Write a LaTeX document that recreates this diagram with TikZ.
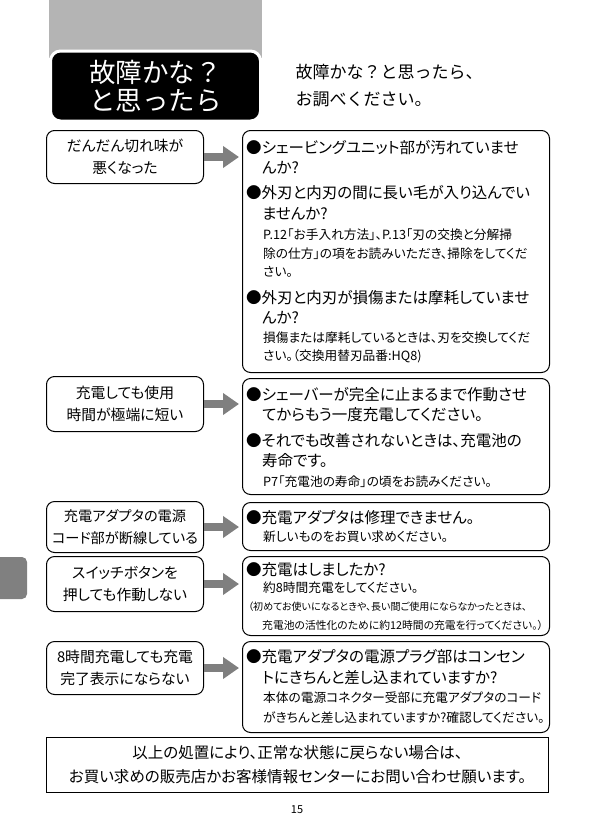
\documentclass[tikz,border=0pt]{standalone}
\usepackage{fontspec}
\setmainfont{Noto Sans CJK JP}[RawFeature=+palt]
\newfontfamily\fullfont{Noto Sans CJK JP}
\usetikzlibrary{arrows.meta,positioning}
\definecolor{hdrgray}{HTML}{B4B4B4}
\definecolor{arrgray}{HTML}{7F7F7F}
\definecolor{tabgray}{HTML}{808080}
\newcommand{\qfont}{\fontsize{14.8pt}{22pt}\selectfont}
\newcommand{\afont}{\fontsize{15.5pt}{20pt}\selectfont}
\newcommand{\sfont}{\fontsize{12.7pt}{18pt}\selectfont}
\tikzset{
  % question boxes on the left, answer boxes on the right
  qbox/.style = {rectangle, rounded corners=8pt, draw, line width=1pt, anchor=north west,
                 minimum width=157pt, inner sep=0pt, align=center, font=\qfont},
  abox/.style = {rectangle, rounded corners=8pt, draw, line width=1pt, anchor=north west,
                 minimum width=307pt, inner sep=0pt},
  go/.style   = {-{Triangle[length=16pt,width=21pt]}, line width=8pt, arrgray, shorten >=3pt},
  ln/.style   = {anchor=west, inner sep=0pt, font=\afont},
  sm/.style   = {anchor=west, inner sep=0pt, font=\sfont},
  tiny/.style = {anchor=west, inner sep=0pt, font=\fontsize{10pt}{12pt}\selectfont},
  tinier/.style = {anchor=west, inner sep=0pt, font=\fontsize{10.8pt}{12pt}\selectfont},
}
\begin{document}
\begin{tikzpicture}[x=1pt,y=-1pt]
\useasboundingbox (0,0) rectangle (595,839);
% --- title -------------------------------------------------------------
\fill[hdrgray] (49,0) rectangle (262,58);
\node[rectangle, rounded corners=10pt, fill=black, draw=white, line width=3pt,
      minimum width=210pt, minimum height=70pt, text=white, align=center,
      font=\fullfont\fontsize{26.5pt}{28pt}\selectfont] (ttl) at (155.5,86) {故障かな？\\と思ったら};
\node[anchor=west, align=left, font=\fullfont\fontsize{17pt}{27pt}\selectfont] (lead) at (292,86)
  {故障かな？と思ったら、\\お調べください。};
% --- side tab ----------------------------------------------------------
\fill[tabgray] (0,599) -- (0,557) [rounded corners=5pt] -- (27,557) -- (27,599) [sharp corners] -- cycle;

% --- questions ---------------------------------------------------------
\node[qbox, minimum height=53pt] (q1) at (46,130) {だんだん切れ味が\\悪くなった};
\node[qbox, minimum height=55pt] (q2) at (46,376) {充電しても使用\\時間が極端に短い};
\node[qbox, minimum height=51pt, font=\fontsize{14.2pt}{21.5pt}\selectfont] (q3) at (46,501) {充電アダプタの電源\\コード部が断線している};
\node[qbox, minimum height=55pt] (q4) at (46,556) {スイッチボタンを\\押しても作動しない};
\node[qbox, minimum height=53pt] (q5) at (46,641) {8時間充電しても充電\\完了表示にならない};

% --- answers -----------------------------------------------------------
\node[abox, minimum height=242pt] (a1) at (242,130) {};
\node[abox, minimum height=116pt] (a2) at (242,378) {};
\node[abox, minimum height=48pt]  (a3) at (242,502) {};
\node[abox, minimum height=79pt]  (a4) at (242,556) {};
\node[abox, minimum height=91pt]  (a5) at (242,641) {};

\foreach \i in {1,...,5} {\draw[go] (q\i.east) -- (q\i.east -| a\i.west);}

\foreach \x/\y/\s/\t [count=\n] in {
  246/148/ln/{●シェービングユニット部が汚れていませ},
  262/168/ln/{んか?},
  246/193/ln/{●外刃と内刃の間に長い毛が入り込んでい},
  262/214/ln/{ませんか?},
  263/235/sm/{P.12「お手入れ方法」、P.13「刃の交換と分解掃},
  263/254/sm/{除の仕方」の項をお読みいただき、掃除をしてくだ},
  263/272/sm/{さい。},
  246/298/ln/{●外刃と内刃が損傷または摩耗していませ},
  262/318/ln/{んか?},
  263/338/sm/{損傷または摩耗しているときは、刃を交換してくだ},
  263/356/sm/{さい。（交換用替刃品番:HQ8)}}
  {\node[\s] (a1l\n) at (\x,\y) {\t};}

\foreach \x/\y/\s/\t [count=\n] in {
  246/395/ln/{●シェーバーが完全に止まるまで作動させ},
  262/415/ln/{てからもう一度充電してください。},
  246/441/ln/{●それでも改善されないときは、充電池の},
  262/461/ln/{寿命です。},
  263/482/sm/{P7「充電池の寿命」の頃をお読みください。}}
  {\node[\s] (a2l\n) at (\x,\y) {\t};}

\foreach \x/\y/\s/\t [count=\n] in {
  246/518/ln/{●充電アダプタは修理できません。},
  263/537/sm/{新しいものをお買い求めください。}}
  {\node[\s] (a3l\n) at (\x,\y) {\t};}

\foreach \x/\y/\s/\t [count=\n] in {
  246/570/ln/{●充電はしましたか?},
  263/588/sm/{約8時間充電をしてください。},
  248/607/tiny/{（初めてお使いになるときや、長い間ご使用にならなかったときは、},
  262/625/tinier/{充電池の活性化のために約12時間の充電を行ってください。）}}
  {\node[\s] (a4l\n) at (\x,\y) {\t};}

\foreach \x/\y/\s/\t [count=\n] in {
  246/657/ln/{●充電アダプタの電源プラグ部はコンセン},
  262/678/ln/{トにきちんと差し込まれていますか?},
  263/698/sm/{本体の電源コネクター受部に充電アダプタのコード},
  263/718/sm/{がきちんと差し込まれていますか?確認してください。}}
  {\node[\s] (a5l\n) at (\x,\y) {\t};}

% --- closing note and page number --------------------------------------
\node[rectangle, draw, line width=1pt, anchor=north west, minimum width=502pt,
      minimum height=55pt, align=center, font=\fontsize{15.5pt}{24pt}\selectfont] (note) at (46,737)
  {以上の処置により、正常な状態に戻らない場合は、\\お買い求めの販売店かお客様情報センターにお問い合わせ願います。};
\node[font=\fontsize{11pt}{11pt}\selectfont] (page) at (297,810) {15};
\end{tikzpicture}
\end{document}
